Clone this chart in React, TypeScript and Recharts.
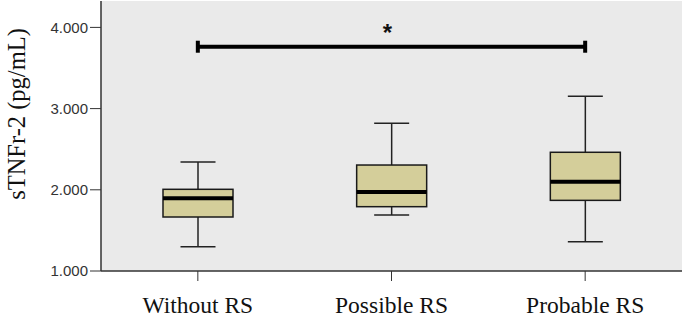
import { ComposedChart, Bar, Line, XAxis, YAxis, CartesianGrid, ReferenceDot } from "recharts";

// values (pg/mL)
const groups = ["Without RS", "Possible RS", "Probable RS"];
const mins = [1300, 1690, 1360];
const q1s = [1665, 1792, 1870];
const medians = [1895, 1972, 2100];
const q3s = [2006, 2305, 2462];
const maxs = [2342, 2820, 3151];
// significance bracket between first and last group
const bracket = [3762, null, 3762];
const yTicks = [1000, 2000, 3000, 4000];

const data = groups.map((g, i) => ({
  group: g,
  range: [mins[i], maxs[i]],
  min: mins[i],
  q1: q1s[i],
  median: medians[i],
  q3: q3s[i],
  max: maxs[i],
  sig: bracket[i],
}));

const BoxShape = (props: any) => {
  const { x, y, width, height, payload } = props;
  if (x == null || payload == null) return null;
  const top = Math.min(y, y + height);
  const h = Math.abs(height);
  const span = payload.max - payload.min;
  const py = (v: number) => top + (h * (payload.max - v)) / span;
  const cx = x + width / 2;
  const cap = width / 2;
  return (
    <g>
      <line x1={cx} x2={cx} y1={py(payload.max)} y2={py(payload.q3)} stroke="#222" strokeWidth={1.5} />
      <line x1={cx} x2={cx} y1={py(payload.q1)} y2={py(payload.min)} stroke="#222" strokeWidth={1.5} />
      <line x1={cx - cap / 2} x2={cx + cap / 2} y1={py(payload.max)} y2={py(payload.max)} stroke="#222" strokeWidth={1.5} />
      <line x1={cx - cap / 2} x2={cx + cap / 2} y1={py(payload.min)} y2={py(payload.min)} stroke="#222" strokeWidth={1.5} />
      <rect
        x={x}
        y={py(payload.q3)}
        width={width}
        height={py(payload.q1) - py(payload.q3)}
        fill="#D4CE9A"
        stroke="#1a1a1a"
        strokeWidth={1.5}
      />
      <line x1={x} x2={x + width} y1={py(payload.median)} y2={py(payload.median)} stroke="#000" strokeWidth={4} />
    </g>
  );
};

const BracketEnd = (props: any) => {
  const { cx, cy } = props;
  if (cx == null || cy == null || isNaN(cy)) return null;
  return <rect x={cx - 2} y={cy - 6} width={4} height={12} fill="#000" />;
};

const Star = (props: any) => {
  const { cx, cy } = props;
  return (
    <text x={cx - 4} y={cy + 6} textAnchor="middle" dominantBaseline="central" fontSize={24} fontWeight="bold" fontFamily="Liberation Sans, Arial" fill="#111">
      *
    </text>
  );
};

const App = () => {
  return (
    <div style={{ position: "absolute", left: 0, top: 0 }}>
      <ComposedChart width={685} height={317} data={data} margin={{ top: 1, right: 3, left: 0, bottom: 0 }}>
        <CartesianGrid horizontal={false} vertical={false} fill="#EAEAEA" />
        <XAxis
          dataKey="group"
          height={46}
          tickSize={10}
          tickMargin={15}
          stroke="#333"
          tick={{ fill: "#111", fontSize: 23.5, fontFamily: "Liberation Serif, Times New Roman, serif" }}
          axisLine={{ stroke: "#333", strokeWidth: 1.5 }}
        />
        <XAxis xAxisId="top" orientation="top" height={0} tick={false} tickLine={false} axisLine={{ stroke: "#333", strokeWidth: 1.5 }} />
        <YAxis
          domain={[1000, 4325]}
          ticks={yTicks}
          width={101}
          tickSize={11}
          tickMargin={2}
          stroke="#333"
          tickFormatter={(v: number) => (v / 1000).toFixed(3)}
          tick={{ fill: "#333", fontSize: 15, fontFamily: "Liberation Sans, Arial, sans-serif" }}
          axisLine={{ stroke: "#333", strokeWidth: 1.5 }}
          allowDataOverflow
          label={{
            content: () => (
              <text
                x={16}
                y={114}
                transform="rotate(-90 16 114)"
                textAnchor="middle"
                dominantBaseline="central"
                fontSize={24.5}
                fontFamily="Liberation Serif, Times New Roman, serif"
                fill="#111"
              >
                sTNFr-2 (pg/mL)
              </text>
            ),
          }}
        />
        <YAxis yAxisId="right" orientation="right" width={0} tick={false} tickLine={false} axisLine={{ stroke: "#333", strokeWidth: 1.5 }} />
        <Bar dataKey="range" barSize={70} shape={BoxShape} isAnimationActive={false} />
        <Line
          dataKey="sig"
          stroke="#000"
          strokeWidth={4}
          connectNulls
          dot={BracketEnd}
          activeDot={false}
          isAnimationActive={false}
        />
        <ReferenceDot x="Possible RS" y={4005} r={0} shape={Star} />
      </ComposedChart>
    </div>
  );
};

export default App;
